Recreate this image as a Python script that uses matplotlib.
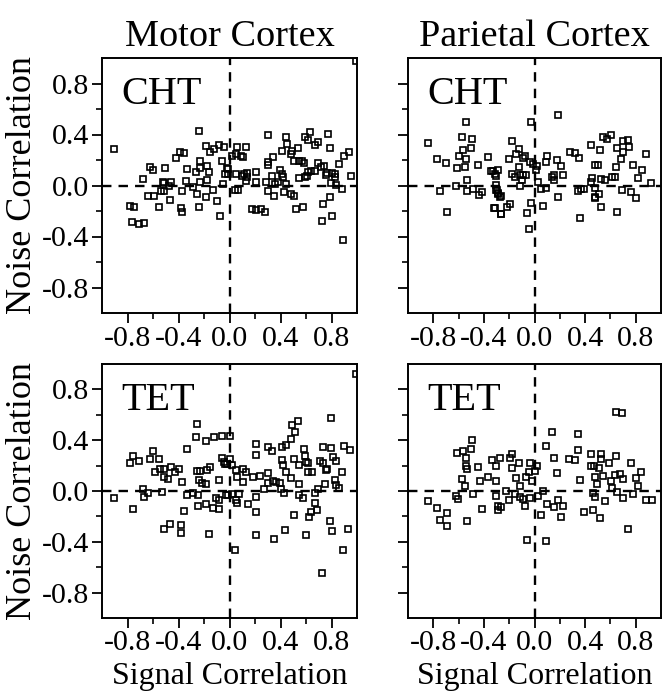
import matplotlib
matplotlib.use("Agg")
import matplotlib.pyplot as plt
from matplotlib.ticker import FixedLocator

plt.rcParams['font.family'] = ['Liberation Serif', 'DejaVu Serif']

# ---------------- data (signal correlation, noise correlation) ----------------
motor_cht_x = [-0.908, -0.241, -0.186, -0.152, -0.118, -0.081, -0.047, -0.391, -0.360, -0.420,
               -0.622, -0.598, -0.509, -0.677, -0.228, -0.336, -0.262, -0.231, -0.173, -0.157,
               -0.058, -0.021, -0.008, -0.034, -0.525, -0.514, -0.459, -0.475, -0.339, -0.283,
               -0.228, -0.178, -0.643, -0.591, -0.538, -0.514, -0.373, -0.252, -0.186, -0.126,
               -0.052, -0.465, -0.554, -0.383, -0.375, -0.241, -0.097, -0.073, -0.782, -0.751,
               -0.761, -0.709, -0.669,
               0.992, 0.060, 0.131, 0.018, 0.052, 0.087, 0.105, -0.008, 0.050, 0.097,
               0.113, 0.139, 0.136, 0.205, 0.210, 0.131, 0.042, 0.063, 0.299, 0.444,
               0.449, 0.415, 0.488, 0.486, 0.541, 0.339, 0.299, 0.302, 0.331, 0.394,
               0.412, 0.417, 0.283, 0.354, 0.378, 0.444, 0.304, 0.349, 0.430, 0.480,
               0.507, 0.176, 0.210, 0.244, 0.278, 0.520, 0.575, 0.596, 0.617, 0.633,
               0.672, 0.693, 0.769, 0.790, 0.504, 0.543, 0.570, 0.585, 0.543, 0.596,
               0.606, 0.617, 0.643, 0.669, 0.698, 0.719, 0.740, 0.753, 0.766, 0.806,
               0.827, 0.827, 0.795, 0.837, 0.882, 0.900, 0.937, 0.858, 0.950, 0.785,
               0.735, 0.806, 0.722, 0.892]
motor_cht_y = [0.286, 0.430, 0.307, 0.262, 0.286, 0.318, 0.304, 0.260, 0.257, 0.215,
               0.144, 0.118, 0.139, 0.050, 0.192, 0.131, 0.102, 0.139, 0.150, 0.105,
               0.192, 0.134, 0.089, 0.087, 0.031, 0.016, 0.026, -0.005, 0.039, -0.010,
               0.029, 0.047, -0.084, -0.081, -0.047, -0.042, -0.047, -0.063, -0.089, -0.037,
               0.013, -0.113, -0.165, -0.176, -0.210, -0.168, -0.123, -0.241, -0.160, -0.165,
               -0.289, -0.304, -0.294,
               0.974, 0.299, 0.299, 0.231, 0.244, 0.231, 0.220, 0.126, 0.089, 0.076,
               0.089, 0.100, 0.068, 0.108, 0.024, 0.034, -0.039, -0.039, 0.394, 0.383,
               0.325, 0.273, 0.273, 0.244, 0.291, 0.226, 0.186, 0.160, 0.073, 0.118,
               0.089, 0.068, 0.024, 0.010, 0.029, 0.013, -0.042, -0.084, -0.050, -0.066,
               -0.079, -0.186, -0.192, -0.186, -0.210, -0.181, -0.171, 0.378, 0.354, 0.423,
               0.320, 0.339, 0.407, 0.291, 0.192, 0.189, 0.192, 0.173, 0.058, 0.066,
               0.076, 0.105, 0.113, 0.115, 0.176, 0.142, 0.152, 0.084, 0.100, 0.100,
               0.089, 0.068, 0.018, 0.005, -0.024, 0.231, 0.262, 0.165, 0.073, -0.089,
               -0.147, -0.236, -0.281, -0.425]

parietal_cht_x = [-0.840, -0.541, -0.577, -0.491, -0.562, -0.598, -0.543, -0.499, -0.772, -0.696,
                  -0.614, -0.549, -0.367, -0.446, -0.344, -0.312, -0.291, -0.619, -0.535, -0.745,
                  -0.533, -0.486, -0.438, -0.412, -0.302, -0.299, -0.289, -0.268, -0.315, -0.265,
                  -0.693,
                  0.189, -0.031, -0.178, -0.123, -0.144, -0.079, -0.094, -0.202, -0.126, -0.039,
                  -0.008, 0.008, 0.018, -0.181, -0.152, -0.118, -0.089, -0.066, -0.100, -0.113,
                  -0.328, -0.304, -0.302, -0.291, -0.276, -0.318, -0.262, -0.218, -0.192, 0.026,
                  0.055, 0.092, -0.024, -0.060, -0.045, 0.068, 0.189, 0.102, 0.087, 0.178,
                  0.207, 0.139, 0.157, 0.155, 0.228, 0.281, 0.320, 0.352, 0.341, 0.365,
                  0.391, 0.360, 0.446, 0.520, 0.538, 0.570, 0.601, 0.654, 0.701, 0.682,
                  0.701, 0.478, 0.499, 0.454, 0.446, 0.478, 0.478, 0.478, 0.512, 0.522,
                  0.522, 0.556, 0.612, 0.635, 0.648, 0.651, 0.688,
                  0.750, 0.780, 0.820, 0.880, 0.760, 0.920, 0.800, 0.850, 0.740]
parietal_cht_y = [0.333, 0.496, 0.378, 0.367, 0.281, 0.228, 0.207, 0.294, 0.207, 0.173,
                  0.136, 0.142, 0.223, 0.157, 0.115, 0.089, 0.118, 0.000, 0.045, -0.045,
                  -0.047, -0.024, -0.071, -0.052, 0.005, -0.034, -0.066, -0.081, -0.178, -0.223,
                  -0.205,
                  0.556, 0.496, 0.352, 0.286, 0.249, 0.234, 0.215, 0.207, 0.147, 0.181,
                  0.168, 0.123, 0.155, 0.087, 0.068, 0.079, 0.079, 0.084, 0.045, -0.003,
                  0.113, 0.071, -0.039, -0.060, -0.087, -0.178, -0.223, -0.165, -0.147, 0.029,
                  -0.026, -0.021, -0.139, -0.218, -0.341, -0.157, -0.094, 0.228, 0.184, 0.197,
                  0.155, 0.068, 0.079, 0.045, 0.079, 0.260, 0.255, 0.213, -0.045, -0.024,
                  -0.029, -0.257, 0.320, 0.281, 0.378, 0.365, 0.396, 0.294, 0.346, 0.207,
                  0.260, 0.157, 0.157, 0.058, 0.031, -0.021, -0.087, -0.100, -0.066, -0.171,
                  0.052, 0.047, 0.063, 0.068, 0.144, -0.205, -0.034,
                  0.300, 0.160, 0.060, 0.250, -0.050, 0.020, -0.100, 0.120, 0.360]

motor_tet_x = [-0.908, -0.759, -0.252, -0.265, -0.186, -0.118, -0.055, -0.336, -0.598, -0.756,
               -0.777, -0.709, -0.625, -0.554, -0.585, -0.546, -0.514, -0.462, -0.514, -0.480,
               -0.425, -0.396, -0.375, -0.257, -0.231, -0.178, -0.152, -0.236, -0.218, -0.184,
               -0.081, -0.060, -0.047, -0.037, -0.677, -0.667, -0.638, -0.533, -0.336, -0.283,
               -0.244, -0.105, -0.081, -0.026, -0.357, -0.244, -0.184, -0.131, -0.081, -0.512,
               -0.465, -0.383, -0.383, -0.160, 0.047,
               0.990, 0.000, 0.000, -0.021, 0.018, 0.052, 0.058, 0.102, 0.131, 0.105,
               0.181, 0.241, 0.207, 0.207, 0.299, 0.333, 0.302, 0.299, 0.273, 0.339,
               0.368, 0.394, 0.404, 0.428, 0.412, 0.444, 0.480, 0.491, 0.541, 0.517,
               0.415, 0.417, 0.444, 0.483, 0.504, 0.549, 0.549, 0.583, 0.591, 0.601,
               0.617, 0.617, 0.648, 0.549, 0.575, 0.210, 0.144, 0.052, 0.058, 0.071,
               0.018, -0.008, 0.207, 0.207, 0.346, 0.438, 0.504, 0.601, 0.622, 0.643,
               0.669, 0.688, 0.669, 0.696, 0.709, 0.735, 0.735, 0.798, 0.793, 0.753,
               0.761, 0.751, 0.811, 0.837, 0.827, 0.832, 0.858, 0.787, 0.806, 0.885,
               0.898, 0.945, 0.890, 0.932, 0.722]
motor_tet_y = [-0.058, -0.144, 0.528, 0.423, 0.391, 0.425, 0.436, 0.331, 0.312, 0.276,
               0.218, 0.234, 0.255, 0.249, 0.147, 0.171, 0.176, 0.186, 0.113, 0.092,
               0.152, 0.171, 0.071, 0.160, 0.160, 0.165, 0.189, 0.087, 0.060, 0.055,
               0.084, 0.257, 0.228, 0.213, 0.018, -0.047, -0.018, -0.010, -0.031, -0.018,
               -0.031, -0.058, -0.073, -0.029, -0.157, -0.115, -0.102, -0.136, -0.144, -0.297,
               -0.260, -0.268, -0.333, -0.341, -0.465,
               0.921, 0.436, 0.249, 0.213, 0.205, 0.165, 0.113, 0.171, 0.152, 0.071,
               0.108, 0.118, 0.370, 0.283, 0.344, 0.318, 0.144, 0.060, 0.013, 0.081,
               0.073, 0.060, 0.013, -0.018, 0.349, 0.362, 0.407, 0.520, 0.554, 0.467,
               0.244, 0.205, 0.152, 0.100, 0.249, 0.205, 0.055, 0.328, 0.276, 0.231,
               0.218, 0.150, 0.150, -0.031, -0.058, -0.050, -0.102, -0.071, -0.097, -0.024,
               -0.024, -0.031, -0.163, -0.346, -0.381, -0.307, -0.189, -0.346, -0.202, -0.163,
               -0.092, -0.150, -0.013, 0.018, 0.236, 0.218, 0.349, 0.341, 0.572, 0.165,
               0.173, 0.055, 0.265, 0.236, 0.087, 0.047, 0.026, -0.234, -0.312, 0.152,
               0.354, 0.323, -0.465, -0.299, -0.648]

parietal_tet_x = [-0.845, -0.772, -0.745, -0.693, -0.693, -0.614, -0.564, -0.538, -0.491, -0.499,
                  -0.538, -0.530, -0.446, -0.577, -0.549, -0.622, -0.601, -0.486, -0.530, -0.433,
                  -0.367, -0.339, -0.273, -0.307, -0.302, -0.417, -0.307, -0.291, -0.268, -0.289,
                  0.648, 0.688, 0.136, 0.346, 0.092, 0.346, 0.276, 0.323, 0.446, 0.525,
                  0.522, 0.585, 0.648, 0.155, 0.181, 0.360, 0.446, 0.472, 0.512, 0.478,
                  0.538, 0.496, 0.601, 0.635, 0.675, 0.696, 0.612, 0.651, 0.696, 0.465,
                  0.478, 0.556, 0.391, 0.465, 0.517, 0.189, 0.157, 0.228, 0.097, 0.207,
                  0.052, 0.071, 0.024, -0.060, 0.092, 0.018, 0.000, -0.016, -0.047, -0.034,
                  -0.068, -0.144, -0.113, -0.178, -0.126, -0.178, -0.192, -0.223, -0.152, -0.118,
                  -0.087, -0.039, -0.079, -0.205,
                  0.760, 0.800, 0.840, 0.880, 0.930, 0.740, 0.780, 0.820]
parietal_tet_y = [-0.076, -0.136, -0.228, -0.171, -0.278, 0.299, 0.312, 0.260, 0.404, 0.331,
                  0.194, 0.173, 0.186, 0.094, 0.042, -0.042, -0.063, -0.024, -0.234, 0.076,
                  0.108, 0.247, 0.260, 0.199, 0.076, -0.142, -0.042, -0.115, -0.123, -0.150,
                  0.619, 0.614, 0.467, 0.446, 0.352, 0.320, 0.252, 0.247, 0.294, 0.289,
                  0.252, 0.218, 0.278, 0.257, 0.139, 0.089, 0.194, 0.194, 0.178, 0.113,
                  0.121, 0.052, 0.081, 0.126, 0.134, 0.094, 0.021, -0.005, -0.058, -0.016,
                  -0.050, -0.076, -0.168, -0.147, -0.215, -0.071, -0.129, -0.121, -0.105, -0.202,
                  -0.189, 0.000, -0.037, -0.383, -0.391, 0.199, 0.155, 0.081, 0.147, 0.220,
                  0.108, 0.102, 0.042, 0.184, 0.220, 0.291, 0.257, 0.003, -0.024, -0.050,
                  -0.063, -0.058, -0.121, -0.071,
                  0.220, 0.100, 0.150, -0.070, -0.070, -0.300, -0.020, 0.040]

col_titles = ["Motor Cortex", "Parietal Cortex"]
row_labels = ["CHT", "TET"]
tick_vals = [-0.8, -0.4, 0.0, 0.4, 0.8]
minor_vals = [-0.6, -0.2, 0.2, 0.6]
xlabel = "Signal Correlation"
ylabel = "Noise Correlation"

panels = [[(motor_cht_x, motor_cht_y), (parietal_cht_x, parietal_cht_y)],
          [(motor_tet_x, motor_tet_y), (parietal_tet_x, parietal_tet_y)]]

# ---------------- figure ----------------
W, H = 669, 694
fig = plt.figure(figsize=(W / 100, H / 100), dpi=100)

col_lr = [(102, 357), (408, 661)]
row_tb = [(58, 313), (364, 618)]

for r in range(2):
    for c in range(2):
        l, rr = col_lr[c]
        t, b = row_tb[r]
        ax = fig.add_axes([l / W, 1 - b / H, (rr - l) / W, (b - t) / H])
        xs, ys = panels[r][c]
        ax.plot(xs, ys, ls='none', marker='s', ms=4.4, mfc='none', mec='black', mew=1.2)
        ax.axhline(0, color='black', lw=1.7, ls=(0, (4, 3)), zorder=1)
        ax.axvline(0, color='black', lw=1.7, ls=(0, (4, 3)), zorder=1)
        ax.set_xlim(-1, 1)
        ax.set_ylim(-1, 1)
        ax.xaxis.set_major_locator(FixedLocator(tick_vals))
        ax.yaxis.set_major_locator(FixedLocator(tick_vals))
        ax.xaxis.set_minor_locator(FixedLocator(minor_vals))
        ax.yaxis.set_minor_locator(FixedLocator(minor_vals))
        ax.set_xticklabels([f"{v:.1f}" for v in tick_vals])
        if c == 0:
            ax.set_yticklabels([f"{v:.1f}" for v in tick_vals])
            ax.set_ylabel(ylabel, fontsize=26, labelpad=2)
        else:
            ax.set_yticklabels([])
        ax.tick_params(which='major', direction='out', length=7, width=1.3, labelsize=21.5, pad=2)
        ax.tick_params(which='minor', direction='out', length=4, width=1.2)
        for s in ax.spines.values():
            s.set_linewidth(1.4)
        ax.text(0.075, 0.93, row_labels[r], transform=ax.transAxes, fontsize=29,
                va='top', ha='left')
        if r == 0:
            ax.set_title(col_titles[c], fontsize=27.5, pad=9)
        if r == 1:
            ax.set_xlabel(xlabel, fontsize=23, labelpad=4)

fig.savefig("out.png", dpi=100)
